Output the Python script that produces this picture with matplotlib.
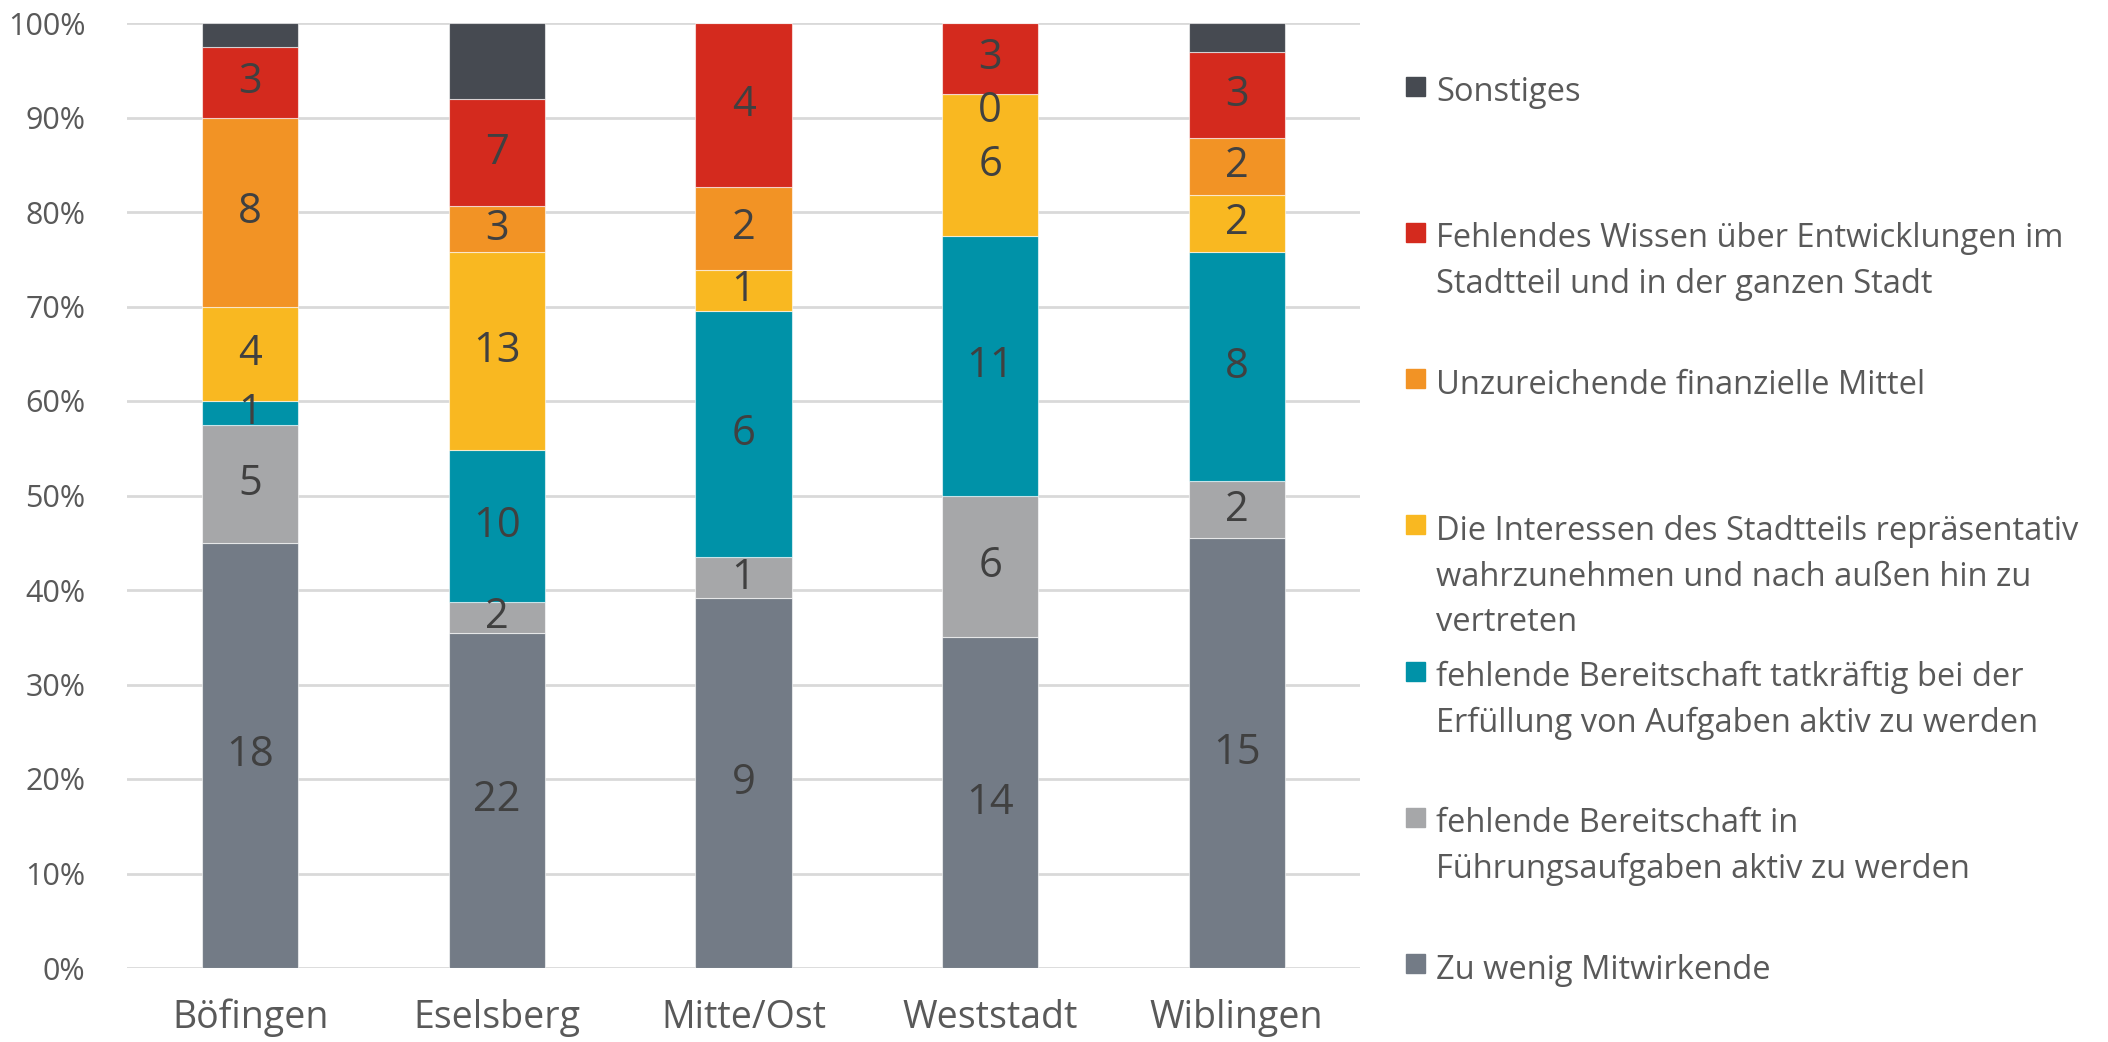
import matplotlib
matplotlib.use("Agg")
import matplotlib.pyplot as plt
import numpy as np

plt.rcParams['font.family'] = ['Open Sans', 'DejaVu Sans']

categories = ["Böfingen", "Eselsberg", "Mitte/Ost", "Weststadt", "Wiblingen"]
series_names = [
    "Zu wenig Mitwirkende",
    "fehlende Bereitschaft in\nFührungsaufgaben aktiv zu werden",
    "fehlende Bereitschaft tatkräftig bei der\nErfüllung von Aufgaben aktiv zu werden",
    "Die Interessen des Stadtteils repräsentativ\nwahrzunehmen und nach außen hin zu\nvertreten",
    "Unzureichende finanzielle Mittel",
    "Fehlendes Wissen über Entwicklungen im\nStadtteil und in der ganzen Stadt",
    "Sonstiges",
]
zu_wenig = [18, 22, 9, 14, 15]
fuehrung = [5, 2, 1, 6, 2]
tatkraeftig = [1, 10, 6, 11, 8]
interessen = [4, 13, 1, 6, 2]
finanziell = [8, 3, 2, 0, 2]
wissen = [3, 7, 4, 3, 3]
sonstiges = [1, 5, 0, 0, 1]
series = [zu_wenig, fuehrung, tatkraeftig, interessen, finanziell, wissen, sonstiges]
show_labels = [True, True, True, True, True, True, False]
colors = ["#737b86", "#a6a7a9", "#0092a8", "#f9b821", "#f29325", "#d42a1e", "#464a51"]
yticks = [0, 10, 20, 30, 40, 50, 60, 70, 80, 90, 100]

W, H = 2108, 1042
fig = plt.figure(figsize=(W / 100, H / 100), dpi=100)
ax = fig.add_axes([127 / W, 1 - 968 / H, (1360 - 127) / W, (968 - 23) / H])

data = np.array(series, dtype=float)
totals = data.sum(axis=0)
pct = data / totals * 100
x = np.arange(len(categories))
bottom = np.zeros(len(categories))
for i, (vals, p) in enumerate(zip(series, pct)):
    ax.bar(x, p, bottom=bottom, width=0.39, color=colors[i], edgecolor=(1, 1, 1, 0.6),
           linewidth=0.8, zorder=3)
    if show_labels[i]:
        for j in range(len(categories)):
            dy = -12 if vals[j] == 0 else 0
            ax.annotate(str(vals[j]), (x[j], bottom[j] + p[j] / 2), xytext=(0, dy),
                        textcoords='offset points', ha='center', va='center',
                        fontsize=30, color='#404040', zorder=4)
    bottom += p

ax.set_xlim(-0.5, len(categories) - 0.5)
ax.set_ylim(0, 100)
ax.set_yticks(yticks)
ax.set_yticklabels([f"{t}%" for t in yticks])
ax.set_xticks(x)
ax.set_xticklabels(categories)
ax.tick_params(axis='y', length=0, pad=30, labelsize=22, labelcolor='#595959')
ax.tick_params(axis='x', length=0, pad=22, labelsize=27, labelcolor='#595959')
for s in ax.spines.values():
    s.set_visible(False)
ax.yaxis.grid(True, color='#d9d9d9', linewidth=2, zorder=0)
ax.set_axisbelow(True)

# legend (reverse order, top to bottom)
first_baselines = [101 + k * 146.3 for k in range(7)]
line_h = 45.7
for k, idx in enumerate(range(6, -1, -1)):
    base = first_baselines[k]
    sq = 19
    fig.patches.append(plt.Rectangle((1406 / W, 1 - (base - 15 + sq / 2) / H), sq / W, sq / H,
                                     transform=fig.transFigure, color=colors[idx]))
    for li, line in enumerate(series_names[idx].split("\n")):
        fig.text(1436 / W, 1 - (base + li * line_h) / H, line, ha='left', va='baseline',
                 fontsize=23.5, color='#595959')

fig.savefig("out.png", dpi=100, facecolor='white')
